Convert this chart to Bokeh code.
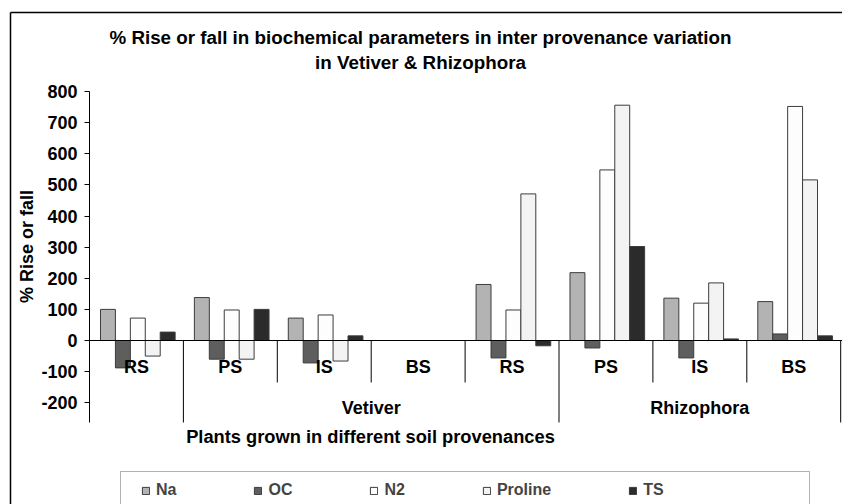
import math
from bokeh.plotting import figure
from bokeh.models import (Range1d, Label, Legend, LegendItem, BoxAnnotation,
                          FixedTicker, LinearAxis)
from bokeh.core.properties import value
from bokeh.embed import file_html
from bokeh.resources import INLINE

# ---------------- data ----------------
categories = ["RS", "PS", "IS", "BS", "RS", "PS", "IS", "BS"]
series_names = ["Na", "OC", "N2", "Proline", "TS"]
na = [100, 138, 72, 0, 180, 218, 136, 125]
oc = [-88, -60, -72, 0, -56, -24, -56, 21]
n2 = [72, 98, 82, 0, 98, 548, 120, 752]
proline = [-50, -60, -66, 0, 471, 756, 185, 516]
ts = [27, 100, 15, 0, -17, 302, 5, 15]
y_ticks = [-200, -100, 0, 100, 200, 300, 400, 500, 600, 700, 800]
y_tick_labels = ["-200", "-100", "0", "100", "200", "300", "400", "500", "600", "700", "800"]
groups = ["Vetiver", "Rhizophora"]
group_first = [1, 5]
group_last = [4, 7]
title_lines = ["% Rise or fall in biochemical parameters in inter provenance variation",
               "in Vetiver & Rhizophora"]
x_title = "Plants grown in different soil provenances"
y_title = "% Rise or fall"

series = [na, oc, n2, proline, ts]
colors = ["#B3B3B3", "#5E5E5E", "#FDFDFD", "#F3F3F3", "#2B2B2B"]
FONT = "Liberation Sans"

# ---------------- layout (canvas pixels) ----------------
W, H = 842, 504
CAT_PX = 93.9            # pixels per category
PX_PER_UNIT = 249 / 800  # pixels per y unit
AX_X, Y800_PX = 89, 91   # where the value axis sits and where 800 lies
PLOT_BOTTOM_PX = 422


def dx(px):
    return (px - AX_X) / CAT_PX


def dy(py):
    return (Y800_PX + 800 * PX_PER_UNIT - py) / PX_PER_UNIT


y_min = dy(PLOT_BOTTOM_PX)

p = figure(width=W, height=H, min_border=0,
           x_range=Range1d(dx(0), dx(W)), y_range=Range1d(dy(H), dy(0)),
           x_axis_location=None, y_axis_location=None,
           toolbar_location=None, output_backend="svg")
p.title.visible = False
p.outline_line_color = None
p.xgrid.visible = False
p.ygrid.visible = False
p.background_fill_color = "white"
p.border_fill_color = "white"

# value axis (ticks + labels by Bokeh, placed at x = 0)
yax = LinearAxis(fixed_location=0, ticker=FixedTicker(ticks=y_ticks))
yax.major_label_overrides = {t: s for t, s in zip(y_ticks, y_tick_labels)}
yax.major_label_text_font = FONT
yax.major_label_text_font_style = "bold"
yax.major_label_text_font_size = "18px"
yax.major_label_text_color = "black"
yax.major_tick_out = 5
yax.major_tick_in = 0
yax.minor_tick_out = 0
yax.minor_tick_in = 0
yax.axis_line_color = None
yax.major_tick_line_color = "black"
yax.major_label_standoff = 7
p.add_layout(yax, "left")
p.segment(x0=[0], y0=[y_min], x1=[0], y1=[max(y_ticks)], line_color="black", line_width=1)

# bars
bar_w = 0.159
start = 0.117
renderers = []
for j, (name, vals) in enumerate(zip(series_names, series)):
    xs = [i + start + bar_w * (j + 0.5) for i in range(len(categories))]
    r = p.vbar(x=xs, top=vals, bottom=0, width=bar_w, fill_color=colors[j],
               line_color="#3c3c3c", line_width=1)
    renderers.append(r)

# zero line
p.segment(x0=[0], y0=[0], x1=[dx(W)], y1=[0], line_color="black", line_width=1)

# category separators
sep_x, sep_y1 = [], []
for k in range(1, len(categories) + 1):
    sep_x.append(k)
    sep_y1.append(y_min if (k in group_first or k == len(categories)) else dy(382))
p.segment(x0=sep_x, y0=[0] * len(sep_x), x1=sep_x, y1=sep_y1, line_color="black", line_width=1)

# category labels
p.text(x=[i + 0.5 for i in range(len(categories))], y=[0] * len(categories), text=categories,
       text_font=value(FONT), text_font_style="bold", text_font_size="18px",
       text_align="center", text_baseline="alphabetic", y_offset=26, text_color="black")

# group labels
p.text(x=[(a + b + 1) / 2 for a, b in zip(group_first, group_last)], y=[0] * len(groups),
       text=groups, text_font=value(FONT), text_font_style="bold", text_font_size="18px",
       text_align="center", text_baseline="alphabetic", y_offset=67, text_color="black")

# titles
for line, py in zip(title_lines, [37, 62]):
    p.add_layout(Label(x=dx(420), y=dy(py), text=line, text_align="center",
                       text_baseline="alphabetic", text_font=FONT, text_font_style="bold",
                       text_font_size="18.8px", text_color="black"))
p.add_layout(Label(x=dx(370), y=dy(436), text=x_title, text_align="center",
                   text_baseline="alphabetic", text_font=FONT, text_font_style="bold",
                   text_font_size="18.3px", text_color="black"))
p.add_layout(Label(x=dx(26), y=dy(246), text=y_title, angle=math.pi / 2, text_align="center",
                   text_baseline="middle", text_font=FONT, text_font_style="bold",
                   text_font_size="18px", text_color="black"))

# outer chart border (left and top edges visible)
p.segment(x0=[dx(10), dx(10)], y0=[dy(12), dy(12)], x1=[dx(10), dx(W + 10)], y1=[dy(H + 10), dy(12)],
          line_color="black", line_width=1.5)

# legend box
p.add_layout(BoxAnnotation(left=dx(120), right=dx(809), top=dy(471), bottom=dy(H + 20),
                           fill_color="white", fill_alpha=1, line_color="black", line_width=1))

# legend
legend = Legend(items=[LegendItem(label=n, renderers=[r]) for n, r in zip(series_names, renderers)],
                orientation="horizontal", location=(141, 5), spacing=77, padding=8,
                glyph_width=9, glyph_height=9, label_standoff=6,
                label_text_font=FONT, label_text_font_style="bold", label_text_font_size="16px",
                border_line_color=None, background_fill_alpha=0)
p.add_layout(legend)

open("out.html", "w").write(file_html(p, INLINE))
